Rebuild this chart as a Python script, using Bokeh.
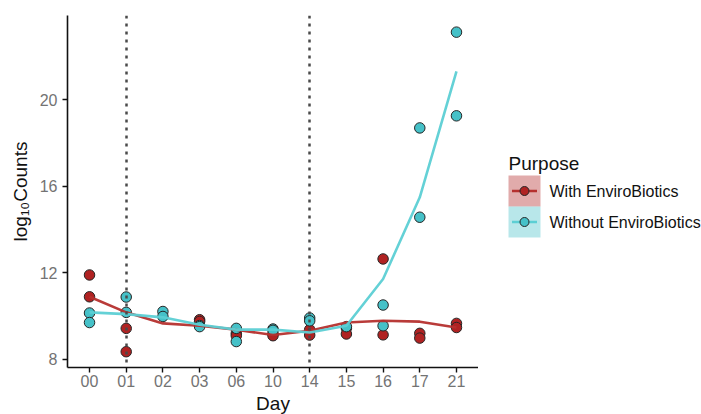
from bokeh.plotting import figure
from bokeh.layouts import row
from bokeh.models import FactorRange, Range1d, FixedTicker
from bokeh.core.properties import value
from bokeh.embed import file_html
from bokeh.resources import INLINE

# Sampling days (categorical axis)
days = ["00", "01", "02", "03", "06", "10", "14", "15", "16", "17", "21"]

# Replicate measurements, log10 counts
with_days = ["00", "00", "01", "01", "03", "03", "06", "06", "10", "10",
             "14", "14", "15", "15", "16", "16", "17", "17", "21", "21"]
with_vals = [11.89, 10.88, 9.42, 8.34, 9.82, 9.74, 9.19, 9.08, 9.16, 9.08,
             9.36, 9.11, 9.43, 9.16, 12.63, 9.12, 9.19, 8.97, 9.65, 9.46]

without_days = ["00", "00", "01", "01", "02", "02", "03", "03", "06", "06", "10", "10",
                "14", "14", "15", "16", "16", "17", "17", "21", "21"]
without_vals = [10.13, 9.69, 10.87, 10.16, 10.20, 9.97, 9.55, 9.50, 9.42, 8.81, 9.39, 9.33,
                9.90, 9.77, 9.50, 10.50, 9.54, 18.69, 14.56, 23.12, 19.25]

# Smoothed trend per group
with_trend = [10.88, 10.16, 9.65, 9.54, 9.36, 9.11, 9.31, 9.69, 9.77, 9.73, 9.46]
without_trend = [10.16, 10.08, 9.93, 9.59, 9.36, 9.36, 9.23, 9.54, 11.70, 15.48, 21.31]

# Treatment start / stop markers
vline_days = ["01", "14"]

# Legend
legend_title = "Purpose"
groups = ["With EnviroBiotics", "Without EnviroBiotics"]

y_ticks = [8, 12, 16, 20]
y_lo, y_hi = 7.61, 23.89

RED = "#b02222"
CYAN = "#45c1c8"
RED_LINE = "#b5302e"
CYAN_LINE = "#5ccfd4"
PT_EDGE = "#262626"
FONT = "Liberation Sans"

FRAME_TOP, FRAME_H, BOTTOM = 15, 352, 47

p = figure(frame_width=411, frame_height=FRAME_H, output_backend="svg", toolbar_location=None,
           x_range=FactorRange(*days, range_padding=0.1, range_padding_units="absolute"),
           y_range=Range1d(y_lo, y_hi),
           min_border_left=67, min_border_top=FRAME_TOP, min_border_bottom=BOTTOM, min_border_right=0)
p.outline_line_color = None
p.xgrid.visible = False
p.ygrid.visible = False
p.border_fill_color = "white"

# Points
p.scatter(with_days, with_vals, size=10.5, fill_color=RED, line_color=PT_EDGE, line_width=1)
p.scatter(without_days, without_vals, size=10.5, fill_color=CYAN, line_color=PT_EDGE, line_width=1)

# Trend lines
p.line(days, with_trend, line_color=RED_LINE, line_width=2.6, line_alpha=0.95)
p.line(days, without_trend, line_color=CYAN_LINE, line_width=2.6, line_alpha=0.95)

# Dotted reference lines
p.vspan(x=vline_days, line_color="#4a4a4a", line_width=2.5, line_dash=value("3 5"))

# Axes
for ax in (p.xaxis[0], p.yaxis[0]):
    ax.axis_line_color = "#111111"
    ax.axis_line_width = 1.6
    ax.major_tick_line_color = "#111111"
    ax.major_tick_line_width = 1.4
    ax.major_tick_out = 5
    ax.major_tick_in = 0
    ax.minor_tick_line_color = None
    ax.major_label_text_font = FONT
    ax.major_label_text_font_size = "16px"
    ax.major_label_text_color = "#737373"
    ax.axis_label_text_font = FONT
    ax.axis_label_text_font_size = "19px"
    ax.axis_label_text_font_style = "normal"
    ax.axis_label_text_color = "#111111"

p.xaxis.axis_label = "Day"
p.xaxis.major_label_standoff = 2
p.xaxis.axis_label_standoff = 3
p.yaxis.axis_label = "log₁₀Counts"
p.yaxis.ticker = FixedTicker(ticks=y_ticks)
p.yaxis.major_label_standoff = 5
p.yaxis.axis_label_standoff = 6

# Legend panel: a glyph-only figure whose y axis runs downward in page pixels
lg = figure(frame_width=223, frame_height=FRAME_H, output_backend="svg", toolbar_location=None,
            x_range=Range1d(0, 223), y_range=Range1d(FRAME_TOP + FRAME_H, FRAME_TOP),
            min_border_left=0, min_border_right=0,
            min_border_top=FRAME_TOP, min_border_bottom=BOTTOM)
lg.axis.visible = False
lg.grid.visible = False
lg.outline_line_color = None
lg.border_fill_color = "white"

key_x, key_w, key_h = 46, 32, 31
key_y = [190.5, 221.5]
lg.text(x=[30], y=[163], text=[legend_title], text_font=value(FONT), text_font_size="19px",
        text_color="#111111", text_baseline="alphabetic", text_align="left")
lg.rect(x=[key_x, key_x], y=key_y, width=key_w, height=key_h,
        fill_color=[RED, CYAN], fill_alpha=0.38, line_color=None)
lg.segment(x0=[key_x - 12.5] * 2, y0=key_y, x1=[key_x + 12.5] * 2, y1=key_y,
           line_color=[RED_LINE, CYAN_LINE], line_width=2.6)
lg.scatter(x=[key_x, key_x], y=key_y, size=9, fill_color=[RED, CYAN], line_color=PT_EDGE)
lg.text(x=[71, 71], y=key_y, text=groups, text_font=value(FONT), text_font_size="16px",
        text_color="#111111", text_baseline="middle", text_align="left")

layout = row(p, lg, spacing=0)
open("out.html", "w").write(file_html(layout, INLINE))
